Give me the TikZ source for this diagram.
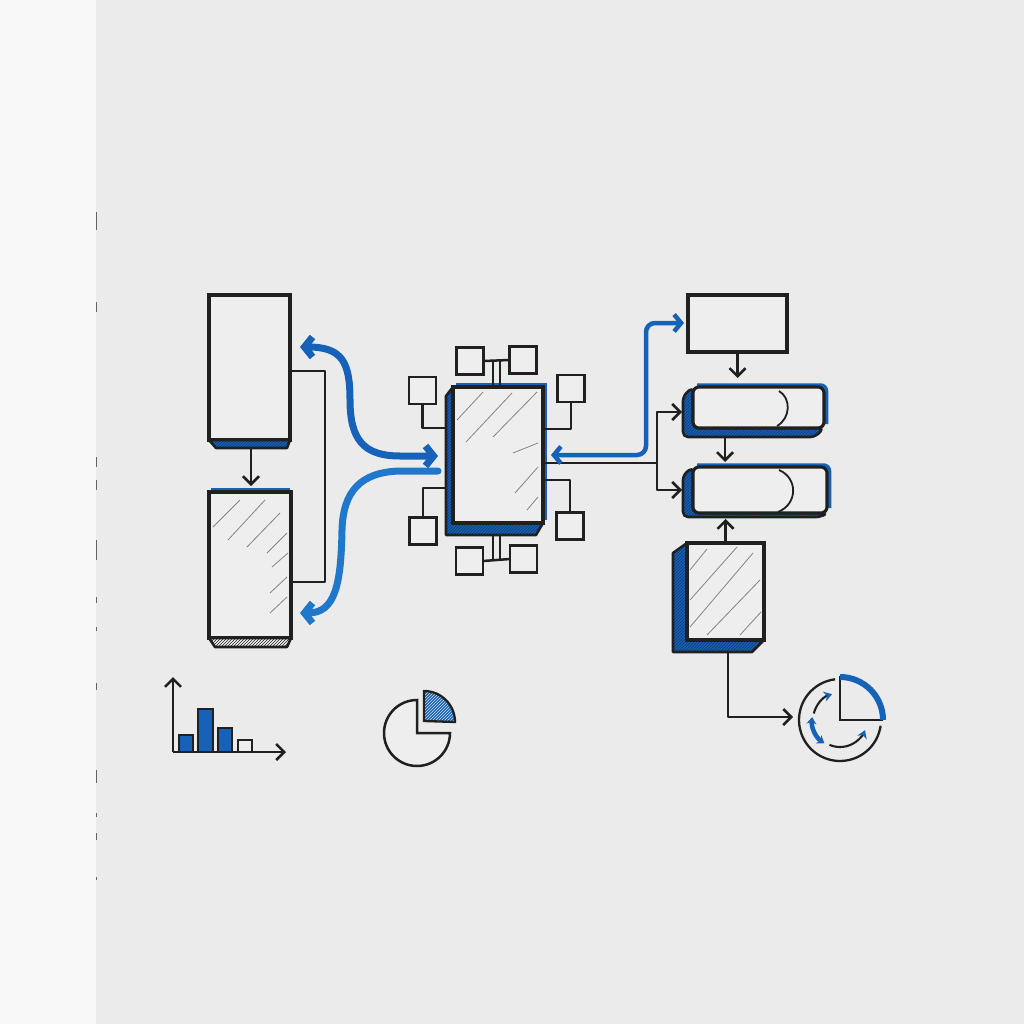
\documentclass[tikz,border=0pt]{standalone}
\usetikzlibrary{arrows.meta,patterns,calc}
\definecolor{ink}{RGB}{32,32,32}
\definecolor{pen}{RGB}{22,98,184}
\definecolor{penL}{RGB}{32,120,204}
\definecolor{penD}{RGB}{12,55,110}
\definecolor{paper}{RGB}{235,235,235}
\definecolor{edgepaper}{RGB}{248,248,248}
\definecolor{face}{RGB}{238,238,238}
\begin{document}
\begin{tikzpicture}[x=1pt,y=-1pt,
  box/.style={rectangle, draw=ink, line width=3.1pt, fill=face, inner sep=0pt, outer sep=0pt},
  sq/.style={rectangle, draw=ink, line width=2.6pt, fill=face, inner sep=0pt, outer sep=0pt, minimum size=27pt},
  conn/.style={draw=ink, line width=2.5pt, line join=round},
  vtip/.style={-{Straight Barb[length=8pt,width=16pt]}},
  sidefill/.style={preaction={fill=pen}, pattern=north east lines, pattern color=penD, draw=ink, line width=2.6pt, line join=round},
  hatchline/.style={draw=ink!55, line width=0.8pt},
  bluearr/.style={draw=pen, line width=7pt, line cap=round},
  bar/.style={draw=ink, line width=2pt, fill=pen},
  edgemark/.style={draw=ink!70, line width=1.3pt},
]
\useasboundingbox (0,0) rectangle (1024,1024);
\fill[paper] (0,0) rectangle (1024,1024);
\fill[edgepaper] (0,0) rectangle (96,1024);
% page edge marks
\foreach \a/\b in {212/230,302/312,457/467,480/490,540/560,597/603,627/631,683/690,770/783,813/817,833/840,877/880}
  \draw[edgemark] (96.5,\a) -- (96.5,\b);

% ---------------- left column ----------------
\draw[pen, line width=4pt] (211,490) -- (290,490);
\node[box, minimum width=81pt, minimum height=145pt] (L1) at (249.5,367.5) {};
\path[sidefill] (209,440) -- (290,440) -- (287,448) -- (216,448) -- cycle;
\node[box, minimum width=82pt, minimum height=146pt] (L2) at (250,565) {};
\foreach \p/\q in {{213,527}/{240,500},{228,540}/{265,500},{247,547}/{280,513},{267,553}/{287,533},{272,567}/{288,553},{270,593}/{287,577},{270,613}/{287,597}}
  \draw[hatchline] (\p) -- (\q);
\path[draw=ink, line width=2.6pt, line join=round, preaction={fill=face}, pattern=north east lines, pattern color=ink] (209,638) -- (291,638) -- (287,647) -- (215,647) -- cycle;
\coordinate (L1b) at (251,448);
\draw[conn, vtip, shorten >=6pt] (L1b) -- (L1b |- L2.north);
\coordinate (k1) at (325,371);
\coordinate (k2) at (325,582);
\draw[conn] (k1 -| L1.east) -- (k1) -- (k2) -- (k2 -| L2.east);

% blue curved arrows
\coordinate (ua) at (300,347);
\coordinate (ub) at (438,456);
\coordinate (la) at (300,613);
\coordinate (lb) at (438,471);
\draw[bluearr, {Straight Barb[length=8pt,width=20pt]}-{Straight Barb[length=8pt,width=20pt]}]
  (ub) -- (400,456) .. controls (364,456) and (350,440) .. (350,400) .. controls (350,362) and (342,347) .. (ua);
\draw[bluearr, draw=penL, -{Straight Barb[length=8pt,width=20pt]}]
  (lb) -- (400,471) .. controls (360,472) and (343,492) .. (342,530) .. controls (341,585) and (335,613) .. (la);

% ---------------- centre ----------------
\path[sidefill] (453,387) -- (446,396) -- (446,535) -- (536,535) -- (543,523) -- (453,523) -- cycle;
\draw[pen, line width=3.5pt] (456,385) -- (545.5,385) -- (545.5,520);
\node[box, minimum width=90pt, minimum height=136pt] (C) at (498,455) {};
\foreach \p/\q in {{457,420}/{483,392},{466,442}/{512,393},{493,437}/{537,392},{513,453}/{538,443},{515,493}/{538,467},{527,510}/{538,497}}
  \draw[hatchline] (\p) -- (\q);

\node[sq] (T1) at (470,361) {};
\node[sq] (T2) at (523,360) {};
\node[sq] (LU) at (422.5,390.5) {};
\node[sq] (LD) at (423,531) {};
\node[sq] (RU) at (571,388.5) {};
\node[sq] (RD) at (570,526) {};
\node[sq] (B1) at (469.5,561) {};
\node[sq] (B2) at (523.5,559) {};

\draw[conn] (T1.east) -- (T2.west);
\coordinate (tj1) at (493,361);
\coordinate (tj2) at (500,361);
\draw[conn] (tj1) -- (tj1 |- C.north);
\draw[conn] (tj2) -- (tj2 |- C.north);
\coordinate (bj1) at (493,535);
\coordinate (bj2) at (500,535);
\coordinate (bjl) at (493,560);
\draw[conn] (bj1) -- (bjl);
\draw[conn] (bj2) -- (bj2 |- bjl);
\draw[conn] (B1.east) -- (B2.west);
\coordinate (cl1) at (446,428);
\coordinate (cl2) at (446,488);
\draw[conn] (LU.south) |- (cl1);
\draw[conn] (LD.north) |- (cl2);
\coordinate (cr1) at (543,429);
\coordinate (cr2) at (543,480);
\draw[conn] (RU.south) |- (cr1);
\draw[conn] (RD.north) |- (cr2);

% ---------------- right column ----------------
\node[box, minimum width=99pt, minimum height=57pt] (R1) at (737.5,323.5) {};

\path[sidefill, rounded corners=5pt] (693,387) -- (683,396) -- (683,437) -- (815,437) -- (824,428) -- (693,428) -- cycle;
\draw[pen, line width=3.5pt, rounded corners=6pt] (697,385) -- (826.5,385) -- (826.5,424);
\node[box, rounded corners=6pt, minimum width=131pt, minimum height=41pt] (R2) at (758.5,407.5) {};
\draw[ink, line width=1.8pt] (779,391) .. controls (791,398) and (791,418) .. (777,426);

\path[sidefill, rounded corners=5pt] (693,467) -- (683,475) -- (683,517) -- (821,517) -- (827,513) -- (693,513) -- cycle;
\draw[pen, line width=3.5pt, rounded corners=6pt] (697,465) -- (829.5,465) -- (829.5,508);
\node[box, rounded corners=6pt, minimum width=134pt, minimum height=46pt] (R3) at (760,490) {};
\draw[ink, line width=1.8pt] (779,470) .. controls (798,478) and (798,504) .. (778,512);

\path[sidefill] (687,543) -- (673,553) -- (673,652) -- (752,652) -- (764,640) -- (687,640) -- cycle;
\node[box, minimum width=77pt, minimum height=97pt] (R4) at (725.5,591.5) {};
\foreach \p/\q in {{690,570}/{707,549},{690,600}/{737,547},{690,627}/{753,553},{707,635}/{760,580},{740,635}/{761,612}}
  \draw[hatchline] (\p) -- (\q);

\draw[conn, vtip, shorten >=9pt] (R1.south) -- (R1.south |- R2.north);
\coordinate (r2b) at (725,437);
\draw[conn, vtip, shorten >=5pt] (r2b) -- (r2b |- R3.north);
\coordinate (r3b) at (725.5,519);
\draw[conn, vtip] (R4.north) -- (r3b);

\coordinate (jn) at (657,463);
\coordinate (r2l) at (683,412);
\coordinate (r3l) at (683,490);
\draw[conn] (jn -| C.east) -- (jn);
\draw[conn, vtip, shorten >=1pt] (jn) |- (r2l);
\draw[conn, vtip, shorten >=1pt] (jn) |- (r3l);

\coordinate (ba) at (551,455);
\coordinate (bb) at (684,323);
\draw[draw=pen, line width=4.5pt, rounded corners=9pt, line cap=round,
  {Straight Barb[length=7pt,width=17pt]}-{Straight Barb[length=7pt,width=17pt]}]
  (ba) -- (646,455) -- (646,323) -- (bb);

% R4 to cycle icon
\coordinate (r4b) at (728,652);
\coordinate (ci) at (793,717);
\draw[conn, vtip] (r4b) |- (ci);

% cycle icon
\coordinate (cc) at (840,720);
\draw[ink, line width=2.3pt] (cc) ++(-97:41) arc[start angle=-97, end angle=-352, radius=41];
\draw[ink, line width=2.6pt, line join=miter] (840,676) -- (cc) -- (883,720);
\draw[pen, line width=6pt] (cc) ++(-90:43) arc[start angle=-90, end angle=0, radius=43];
\draw[ink, line width=2.1pt, -{Stealth[length=8pt,width=10pt,color=pen]}] (cc) ++(-166:27) arc[start angle=-166, end angle=-107, radius=27];
\draw[pen, line width=4.5pt, {Stealth[length=7pt,width=10pt]}-{Stealth[length=7pt,width=10pt]}] (cc) ++(-174:28) arc[start angle=-174, end angle=-236, radius=28];
\draw[ink, line width=2.1pt, -{Stealth[length=8pt,width=10pt,color=pen]}] (cc) ++(-247:27) arc[start angle=-247, end angle=-338, radius=27];

% ---------------- bottom-left charts ----------------
\coordinate (O) at (173,752);
\coordinate (yt) at (173,677);
\coordinate (xt) at (286,752);
\draw[bar] (179,752) rectangle (193,735);
\draw[bar] (198,752) rectangle (213,709);
\draw[bar] (218,752) rectangle (232,728);
\draw[bar, fill=face] (238,752) rectangle (252,740);
\draw[conn, vtip] (O) -- (yt);
\draw[conn, vtip] (O) -- (xt);

% pie
\coordinate (pc) at (417,733);
\draw[ink, line width=2.5pt, line join=miter, fill=face] (pc) -- (417,700) arc[start angle=-90, end angle=-360, radius=33] -- cycle;
\coordinate (sc) at (424,721);
\path[draw=ink, line width=2.3pt, line join=miter, preaction={fill=pen}, pattern=north east lines, pattern color=white!80!pen] (sc) -- (424,691) arc[start angle=-90, end angle=0, radius=31] -- cycle;
\end{tikzpicture}
\end{document}
